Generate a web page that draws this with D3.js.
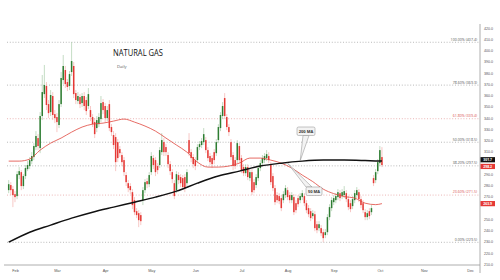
<!DOCTYPE html>
<html>
<head>
<meta charset="utf-8">
<script src="https://cdn.jsdelivr.net/npm/d3@7"></script>
<style>
  body { margin: 0; background: #ffffff; }
  svg { display: block; font-family: "Open Sans", "DejaVu Sans", sans-serif; }
</style>
</head>
<body>
<script>
// daily candles, first one on Wed 27 Jan, one value per trading day
var opens = [
  275.9, 280.4, 276.8, 272.3, 270.6, 289.3, 291.9, 279.5, 288.4, 294.6,
  297.3, 301.7, 305.3, 314.2, 322.2, 313.3, 341.8, 361.3, 368.5, 352.4,
  345.3, 359.6, 343.5, 340.9, 333.8, 352.4, 373.8, 382.7, 372.0, 368.5,
  380.9, 386.3, 362.2, 355.1, 358.7, 353.3, 359.6, 356.0, 350.7, 347.1,
  340.9, 336.4, 331.1, 334.6, 339.1, 354.2, 350.7, 340.0, 352.4, 332.0,
  324.9, 323.1, 318.6, 312.4, 307.1, 302.6, 289.3, 282.1, 279.5, 274.1,
  267.0, 257.2, 255.4, 253.7, 267.0, 275.9, 283.9, 281.2, 291.9, 304.4,
  302.6, 297.3, 298.2, 309.7, 318.6, 314.2, 307.1, 299.0, 291.9, 282.1,
  275.9, 289.3, 287.5, 286.6, 287.5, 282.1, 320.4, 309.7, 305.3, 302.6,
  302.6, 314.2, 316.0, 318.6, 320.4, 311.5, 306.2, 304.4, 309.7, 308.8,
  320.4, 331.1, 341.8, 357.8, 340.9, 332.0, 318.6, 307.1, 302.6, 302.6,
  315.1, 304.4, 296.4, 291.0, 296.4, 286.6, 291.9, 283.0, 280.4, 286.6,
  295.5, 299.9, 302.6, 304.4, 306.2, 298.2, 288.4, 277.7, 271.5, 270.6,
  268.8, 267.0, 271.5, 275.9, 271.5, 267.0, 269.7, 264.3, 268.8, 267.0,
  269.7, 270.6, 264.3, 259.9, 257.2, 252.8, 254.5, 245.6, 242.1, 242.1,
  238.5, 235.9, 238.5, 251.9, 259.9, 265.2, 267.0, 269.7, 273.2, 270.6,
  271.5, 273.2, 267.9, 264.3, 261.7, 267.0, 271.5, 274.1, 267.9, 264.3,
  256.3, 251.9, 257.2, 256.3, 286.6, 284.8, 292.8, 299.9, 305.3
];
var highs = [
  284.8, 283.0, 279.5, 275.0, 292.8, 296.4, 293.7, 290.1, 298.2, 301.7,
  305.3, 309.7, 317.7, 328.4, 325.7, 345.3, 378.3, 387.2, 372.0, 356.0,
  364.9, 363.1, 347.1, 344.4, 356.0, 380.9, 396.1, 386.3, 374.7, 381.8,
  407.6, 389.8, 364.9, 363.1, 361.3, 362.2, 363.1, 358.7, 366.7, 350.7,
  343.5, 340.0, 341.8, 344.4, 359.6, 356.9, 353.3, 350.7, 356.0, 334.6,
  328.4, 326.6, 321.3, 315.1, 309.7, 305.3, 291.9, 284.8, 282.1, 276.8,
  269.7, 259.9, 258.1, 256.3, 278.6, 285.7, 286.6, 291.9, 309.7, 307.1,
  305.3, 299.9, 314.2, 326.6, 322.2, 316.8, 309.7, 301.7, 294.6, 284.8,
  292.8, 291.9, 290.1, 289.3, 290.1, 294.6, 326.6, 312.4, 307.9, 305.3,
  316.8, 319.5, 322.2, 331.1, 323.1, 314.2, 308.8, 307.1, 312.4, 321.3,
  334.6, 345.3, 354.2, 362.2, 343.5, 334.6, 321.3, 309.7, 305.3, 320.4,
  317.7, 307.1, 299.0, 299.0, 299.0, 294.6, 294.6, 285.7, 290.1, 298.2,
  302.6, 307.1, 308.8, 311.5, 309.7, 300.8, 291.0, 280.4, 274.1, 273.2,
  271.5, 275.0, 280.4, 278.6, 274.1, 274.1, 272.3, 267.0, 271.5, 273.2,
  275.9, 273.2, 267.0, 262.6, 259.9, 258.1, 257.2, 248.3, 248.3, 244.8,
  241.2, 241.2, 254.5, 263.4, 269.7, 271.5, 273.2, 276.8, 275.9, 276.8,
  279.5, 275.9, 270.6, 267.0, 270.6, 275.9, 278.6, 276.8, 270.6, 267.0,
  259.0, 258.1, 259.9, 262.6, 289.3, 294.6, 303.5, 315.1, 314.2
];
var lows = [
  273.2, 271.5, 260.8, 265.2, 267.9, 285.7, 275.9, 276.8, 285.7, 292.8,
  294.6, 299.0, 302.6, 311.5, 311.5, 308.8, 338.2, 357.8, 347.1, 340.0,
  341.8, 338.2, 335.5, 327.5, 331.1, 349.8, 370.2, 366.7, 364.0, 364.9,
  377.4, 357.8, 352.4, 352.4, 348.9, 349.8, 347.1, 342.7, 348.0, 337.3,
  332.0, 322.2, 327.5, 332.0, 336.4, 343.5, 336.4, 337.3, 328.4, 324.0,
  312.4, 292.8, 300.8, 305.3, 297.3, 288.4, 279.5, 274.1, 272.3, 259.0,
  253.7, 251.0, 243.0, 244.8, 262.6, 273.2, 277.7, 278.6, 289.3, 294.6,
  288.4, 290.1, 295.5, 307.1, 306.2, 306.2, 295.5, 289.3, 282.1, 267.9,
  273.2, 281.2, 278.6, 275.9, 274.1, 279.5, 306.2, 300.8, 295.5, 293.7,
  299.9, 311.5, 313.3, 316.0, 308.8, 301.7, 298.2, 295.5, 299.0, 306.2,
  317.7, 328.4, 339.1, 339.1, 329.3, 324.0, 302.6, 293.7, 294.6, 299.9,
  299.9, 291.0, 288.4, 288.4, 284.8, 283.9, 271.5, 273.2, 277.7, 283.9,
  292.8, 297.3, 299.9, 301.7, 299.9, 280.4, 275.0, 262.6, 264.3, 263.4,
  257.2, 264.3, 268.8, 267.0, 264.3, 264.3, 253.7, 255.4, 260.8, 264.3,
  267.0, 261.7, 255.4, 251.9, 248.3, 250.1, 239.4, 237.6, 239.4, 235.0,
  229.6, 233.2, 235.9, 249.2, 257.2, 262.6, 264.3, 267.0, 266.1, 267.9,
  268.8, 265.2, 258.1, 256.3, 259.0, 264.3, 268.8, 265.2, 259.9, 255.4,
  249.2, 249.2, 250.1, 253.7, 279.5, 282.1, 290.1, 297.3, 296.4
];
var closes = [
  281.2, 275.9, 271.5, 269.7, 290.1, 292.8, 279.5, 288.4, 295.5, 298.2,
  302.6, 306.2, 315.1, 324.0, 315.1, 341.8, 363.1, 369.4, 351.6, 344.4,
  360.5, 342.7, 340.0, 336.4, 352.4, 375.6, 386.3, 370.2, 367.6, 379.1,
  390.7, 361.3, 356.0, 359.6, 352.4, 359.6, 350.7, 346.2, 361.3, 340.9,
  334.6, 325.7, 338.2, 340.9, 353.3, 347.1, 340.0, 347.1, 331.1, 327.5,
  316.0, 300.8, 304.4, 308.8, 300.8, 291.9, 283.0, 277.7, 275.9, 262.6,
  256.3, 253.7, 249.2, 248.3, 275.9, 283.0, 281.2, 289.3, 306.2, 298.2,
  291.9, 293.7, 311.5, 320.4, 309.7, 309.7, 299.0, 292.8, 285.7, 270.6,
  290.1, 284.8, 282.1, 278.6, 277.7, 291.9, 308.8, 304.4, 299.0, 297.3,
  314.2, 316.8, 319.5, 325.7, 311.5, 304.4, 300.8, 299.0, 302.6, 318.6,
  332.0, 342.7, 350.7, 341.8, 332.0, 327.5, 305.3, 297.3, 297.3, 317.7,
  302.6, 293.7, 291.0, 296.4, 287.5, 291.9, 274.1, 275.9, 287.5, 295.5,
  299.9, 304.4, 306.2, 307.9, 302.6, 283.0, 277.7, 265.2, 267.0, 266.1,
  259.9, 272.3, 277.7, 269.7, 267.0, 271.5, 256.3, 258.1, 263.4, 270.6,
  273.2, 264.3, 258.1, 254.5, 251.0, 255.4, 242.1, 240.3, 245.6, 237.6,
  233.2, 238.5, 251.9, 260.8, 267.0, 268.8, 270.6, 274.1, 268.8, 274.1,
  275.0, 267.9, 260.8, 259.0, 267.9, 273.2, 275.9, 267.9, 262.6, 258.1,
  251.9, 255.4, 252.8, 259.9, 282.1, 291.9, 300.8, 311.5, 298.2
];

// moving averages at a few candles
var ma50Idx = [0, 5, 10, 15, 20, 25, 30, 35, 40, 45, 50, 55, 60, 65, 70, 75, 80, 85, 90,
               95, 100, 105, 110, 115, 120, 125, 130, 135, 140, 145, 150, 155, 160, 165, 170, 175, 178];
var ma50 = [301.7, 301.7, 303.5, 311.5, 317.7, 322.2, 327.5, 332.0, 334.6, 335.5, 337.3, 339.1,
            336.4, 332.9, 328.4, 322.2, 316.0, 309.7, 300.8, 296.4, 296.4, 297.3, 299.9, 304.4,
            304.4, 302.6, 299.9, 295.5, 289.3, 283.5, 276.8, 272.8, 270.2, 268.8, 264.3, 263.0, 263.9];
var ma200Idx = [0, 10, 20, 30, 40, 50, 60, 70, 80, 90, 100, 110, 120, 130, 140, 150, 160, 170, 178];
var ma200 = [229.6, 238.5, 244.8, 251.0, 256.3, 260.8, 265.2, 269.7, 275.0, 282.1, 288.4, 292.8,
             297.3, 299.9, 301.7, 302.6, 302.6, 302.2, 301.7];

// fibonacci retracement levels
var fibPct = ["0.00%", "23.60%", "38.20%", "50.00%", "61.80%", "78.60%", "100.00%"];
var fibPrice = [229.5, 271.5, 297.5, 318.5, 339.4, 369.3, 407.4];
var fibRed = [false, true, false, false, true, false, false];

// axis labels
var priceTicks = [210, 220, 230, 240, 250, 260, 270, 280, 290, 300, 310,
                  320, 330, 340, 350, 360, 370, 380, 390, 400, 410, 420];
var months = ["Feb", "Mar", "Apr", "May", "Jun", "Jul", "Aug", "Sep", "Oct", "Nov", "Dec"];

var width = 500;
var height = 280;

var svg = d3.select("body")
            .append("svg")
            .attr("width", width)
            .attr("height", height);

svg.append("rect")
   .attr("width", width)
   .attr("height", height)
   .attr("fill", "#ffffff");

// trading days (weekdays) from the first candle to the end of the year
var tradingDays = d3.timeDay.range(new Date(2021, 0, 27), new Date(2021, 11, 31))
                    .filter(function(d){ return d.getDay() !== 0 && d.getDay() !== 6; });

// x runs on the trading-day index, like the original platform
var xScale = d3.scaleLinear()
               .domain([0, 225])
               .range([8.7, 480.5]);
var yScale = d3.scaleLinear()
               .domain([209.5, 420])
               .range([264.8, 28.1]);

// index of the first trading day of each labelled month
var monthFmt = d3.timeFormat("%b");
var monthIdx = months.map(function(m){
  return tradingDays.findIndex(function(d){ return monthFmt(d) === m; });
});

// fibonacci dotted lines and their labels
fibPrice.forEach(function(p, i){
  svg.append("line")
     .attr("x1", 7)
     .attr("x2", 479)
     .attr("y1", yScale(p))
     .attr("y2", yScale(p))
     .attr("stroke", fibRed[i] ? "#e6a3a3" : "#a8a8a8")
     .attr("stroke-width", 0.8)
     .attr("stroke-dasharray", "1,1.8");
  svg.append("text")
     .attr("x", 477)
     .attr("y", yScale(p) - 1.6)
     .attr("text-anchor", "end")
     .attr("font-size", 3.6)
     .attr("fill", fibRed[i] ? "#d9534f" : "#555")
     .text(fibPct[i] + " (" + p.toFixed(1) + ")");
});

// axes
svg.append("line")
   .attr("x1", 4).attr("x2", 480)
   .attr("y1", 265).attr("y2", 265)
   .attr("stroke", "#999").attr("stroke-width", 0.8);
svg.append("line")
   .attr("x1", 480).attr("x2", 480)
   .attr("y1", 24).attr("y2", 273)
   .attr("stroke", "#999").attr("stroke-width", 0.8);

var xAxis = d3.axisBottom(xScale)
              .tickValues(monthIdx)
              .tickFormat(function(d, i){ return months[i]; })
              .tickSize(0)
              .tickPadding(4);
var gx = svg.append("g")
            .attr("transform", "translate(0,265)")
            .call(xAxis);
gx.select(".domain").remove();
gx.selectAll("text").attr("font-size", 3.8).attr("fill", "#555").attr("font-family", null);

var yAxis = d3.axisRight(yScale)
              .tickValues(priceTicks)
              .tickFormat(d3.format(".1f"))
              .tickSize(0)
              .tickPadding(4);
var gy = svg.append("g")
            .attr("transform", "translate(480,0)")
            .call(yAxis);
gy.select(".domain").remove();
gy.selectAll("text").attr("font-size", 3.6).attr("fill", "#555").attr("font-family", null);

// candles
var candles = closes.map(function(c, i){
  return {i: i, o: opens[i], h: highs[i], l: lows[i], c: c};
});
var up = "#2e7d32", down = "#e53935";

svg.append("g")
   .selectAll("line")
   .data(candles)
   .enter()
   .append("line")
   .attr("x1", function(d){ return xScale(d.i); })
   .attr("x2", function(d){ return xScale(d.i); })
   .attr("y1", function(d){ return yScale(d.h); })
   .attr("y2", function(d){ return yScale(d.l); })
   .attr("stroke", function(d){ return d.c >= d.o ? "#9cc49c" : "#f2a3a0"; })
   .attr("stroke-width", 0.6);

svg.append("g")
   .selectAll("rect")
   .data(candles)
   .enter()
   .append("rect")
   .attr("x", function(d){ return xScale(d.i) - 0.75; })
   .attr("width", 1.5)
   .attr("y", function(d){ return yScale(Math.max(d.o, d.c)); })
   .attr("height", function(d){ return Math.max(0.6, Math.abs(yScale(d.o) - yScale(d.c))); })
   .attr("fill", function(d){ return d.c >= d.o ? up : down; });

// moving average lines
var ma50Line = d3.line()
                 .x(function(d, i){ return xScale(ma50Idx[i]); })
                 .y(function(d){ return yScale(d); })
                 .curve(d3.curveMonotoneX);
var ma200Line = d3.line()
                  .x(function(d, i){ return xScale(ma200Idx[i]); })
                  .y(function(d){ return yScale(d); })
                  .curve(d3.curveMonotoneX);

svg.append("path")
   .attr("d", ma50Line(ma50))
   .attr("fill", "none")
   .attr("stroke", "#e0463e")
   .attr("stroke-width", 0.8);
svg.append("path")
   .attr("d", ma200Line(ma200))
   .attr("fill", "none")
   .attr("stroke", "#111")
   .attr("stroke-width", 1.5);

// callouts pointing at the averages
var callouts = [
  {label: "200 MA", idx: 139, price: 301.9, bx: 297, by: 127, tip: [303, 309]},
  {label: "50 MA", idx: 133, price: 299.9, bx: 306, by: 187, tip: [306, 312]}
];
callouts.forEach(function(c){
  var tx = xScale(c.idx), ty = yScale(c.price);
  var bw = c.label === "200 MA" ? 18 : 16, bh = 8.5;
  var edgeY = ty < c.by ? c.by : c.by + bh;
  svg.append("path")
     .attr("d", "M" + tx + "," + ty + "L" + c.tip[0] + "," + edgeY + "L" + c.tip[1] + "," + edgeY + "Z")
     .attr("fill", "#f3f3f3")
     .attr("stroke", "#8a8a8a")
     .attr("stroke-width", 0.5);
  svg.append("rect")
     .attr("x", c.bx).attr("y", c.by)
     .attr("width", bw).attr("height", bh)
     .attr("rx", 1.5)
     .attr("fill", "#f3f3f3")
     .attr("stroke", "#8a8a8a")
     .attr("stroke-width", 0.5);
  svg.append("text")
     .attr("x", c.bx + bw / 2)
     .attr("y", c.by + bh / 2 + 1.4)
     .attr("text-anchor", "middle")
     .attr("font-size", 4)
     .attr("font-weight", "bold")
     .attr("fill", "#333")
     .text(c.label);
});

// last-value boxes on the price scale
var lastBoxes = [
  {v: ma200[ma200.length - 1], fill: "#111", dy: -1.4},
  {v: closes[closes.length - 1], fill: "#e53935", dy: 1.4},
  {v: ma50[ma50.length - 1], fill: "#e53935", dy: 0}
];

// the boxes cover the scale labels they sit on
gy.selectAll(".tick")
  .filter(function(d){
    return lastBoxes.some(function(b){ return Math.abs(yScale(d) - yScale(b.v) - b.dy) < 5.5; });
  })
  .remove();

lastBoxes.forEach(function(b){
  var cy = yScale(b.v) + b.dy;
  svg.append("rect")
     .attr("x", 480.5).attr("y", cy - 2.6)
     .attr("width", 14.5).attr("height", 5.2)
     .attr("fill", b.fill);
  svg.append("text")
     .attr("x", 487.7).attr("y", cy + 1.2)
     .attr("text-anchor", "middle")
     .attr("font-size", 3.4)
     .attr("font-weight", "bold")
     .attr("fill", "#fff")
     .text(b.v.toFixed(1));
});

// title
svg.append("text")
   .attr("x", 113)
   .attr("y", 56)
   .attr("font-size", 8.6)
   .attr("textLength", 50)
   .attr("lengthAdjust", "spacingAndGlyphs")
   .attr("fill", "#111")
   .text("NATURAL GAS");
svg.append("text")
   .attr("x", 117)
   .attr("y", 68)
   .attr("font-size", 4.2)
   .attr("fill", "#555")
   .text("Daily");
</script>
</body>
</html>
